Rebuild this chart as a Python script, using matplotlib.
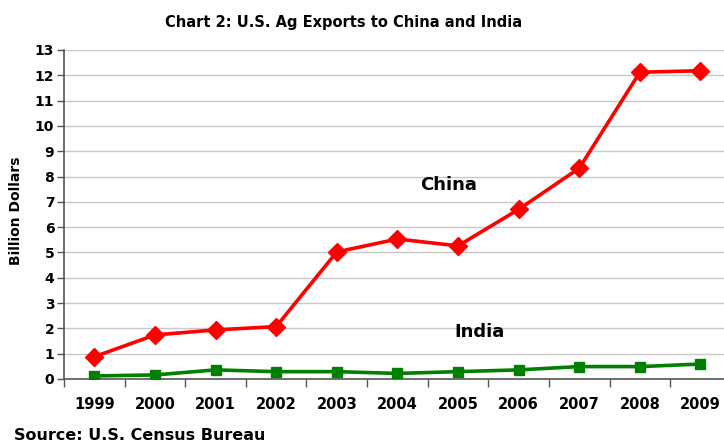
import matplotlib.pyplot as plt
import numpy as np

plt.rcParams['font.family'] = ['DejaVu Sans']

years = ['1999', '2000', '2001', '2002', '2003', '2004', '2005', '2006', '2007', '2008', '2009']
china = [0.88, 1.74, 1.94, 2.07, 5.02, 5.53, 5.26, 6.70, 8.33, 12.12, 12.18]
india = [0.12, 0.16, 0.36, 0.29, 0.29, 0.22, 0.29, 0.36, 0.49, 0.49, 0.59]
yticks = list(range(0, 14))

fig = plt.figure(figsize=(7.24, 4.43), dpi=100)
ax = fig.add_axes([0.0884, 0.1445, 0.921, 0.7427])

x = np.arange(len(years))
ax.plot(x, china, color='#ff0000', lw=2.6, marker='D', markersize=9, zorder=3)
ax.plot(x, india, color='#008000', lw=2.6, marker='s', markersize=7.5, zorder=3)

ax.set_xlim(-0.5, len(years) - 0.5)
ax.set_ylim(0, 13)
ax.set_yticks(yticks)
ax.set_yticklabels([str(t) for t in yticks], fontsize=10, fontweight='bold')
ax.set_xticks(x)
ax.set_xticklabels(years, fontsize=10.5, fontweight='bold')
ax.set_xticks(np.arange(-0.5, len(years), 1.0), minor=True)
ax.tick_params(axis='x', which='major', length=0, pad=13)
ax.tick_params(axis='x', which='minor', length=6, width=1, color='#555555', direction='out')
ax.tick_params(axis='y', length=5, width=1, color='#555555', direction='out', pad=2)

ax.grid(axis='y', color='#c8c8c8', lw=1)
ax.set_axisbelow(True)
for side in ['top', 'right']:
    ax.spines[side].set_visible(False)
for side in ['left', 'bottom']:
    ax.spines[side].set_color('#555555')
    ax.spines[side].set_linewidth(1.2)

ax.set_ylabel('Billion Dollars', fontsize=10, fontweight='bold', labelpad=8)
ax.yaxis.set_label_coords(-0.062, 0.51)

ax.text(5.85, 7.65, 'China', fontsize=13, fontweight='bold', ha='center', va='center')
ax.text(6.35, 1.85, 'India', fontsize=13, fontweight='bold', ha='center', va='center')

fig.text(0.475, 0.95, 'Chart 2: U.S. Ag Exports to China and India', fontsize=10.5,
         fontweight='bold', ha='center', va='center')
fig.text(0.02, 0.018, 'Source: U.S. Census Bureau', fontsize=11.5, fontweight='bold',
         ha='left', va='center')

fig.savefig('out.png', dpi=100)
